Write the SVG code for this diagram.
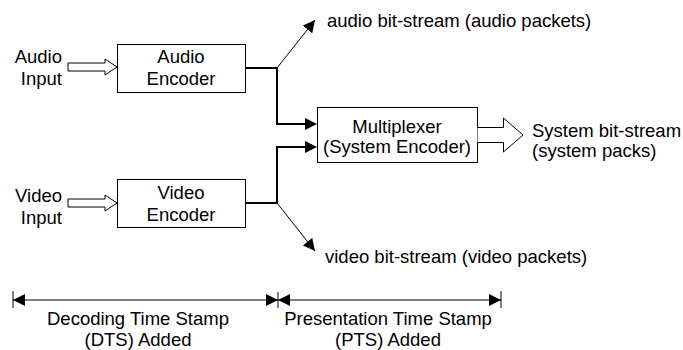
<svg xmlns="http://www.w3.org/2000/svg" width="683" height="350" viewBox="0 0 683 350">
<defs>
<style>
text{font-family:"Liberation Sans",Arial,sans-serif;font-size:18.5px;fill:#000}
.box{fill:#fff;stroke:#000;stroke-width:1}
.thick{fill:none;stroke:#000;stroke-width:2}
.thin{fill:none;stroke:#000;stroke-width:1}
.hollow{fill:#fff;stroke:#000;stroke-width:1}
</style>
<marker id="ah" viewBox="0 0 12 12" refX="12" refY="6" markerWidth="12" markerHeight="12" markerUnits="userSpaceOnUse" orient="auto">
<path d="M0,0 L12,6 L0,12 Z" fill="#000"/>
</marker>
<marker id="ahs" viewBox="0 0 12 12" refX="12" refY="6" markerWidth="12" markerHeight="12" markerUnits="userSpaceOnUse" orient="auto-start-reverse">
<path d="M0,0 L12,6 L0,12 Z" fill="#000"/>
</marker>
</defs>

<g id="audio-input">
<text x="62" y="63" text-anchor="end">Audio</text>
<text x="62" y="85" text-anchor="end">Input</text>
<path class="hollow" d="M68,63 L105,63 L105,59 L117,67 L105,75 L105,71 L68,71 Z"/>
</g>

<g id="video-input">
<text x="62" y="202" text-anchor="end">Video</text>
<text x="62" y="224" text-anchor="end">Input</text>
<path class="hollow" d="M68,199 L105,199 L105,195 L117,203 L105,211 L105,207 L68,207 Z"/>
</g>

<g id="audio-encoder">
<rect class="box" x="117.5" y="44.5" width="128" height="48"/>
<text x="181" y="63" text-anchor="middle">Audio</text>
<text x="181" y="85" text-anchor="middle">Encoder</text>
</g>

<g id="video-encoder">
<rect class="box" x="117.5" y="179.5" width="128" height="48"/>
<text x="181" y="199" text-anchor="middle">Video</text>
<text x="181" y="221" text-anchor="middle">Encoder</text>
</g>

<g id="multiplexer">
<rect class="box" x="317.5" y="107.5" width="160" height="55"/>
<text x="397" y="133" text-anchor="middle">Multiplexer</text>
<text x="397" y="153" text-anchor="middle">(System Encoder)</text>
</g>

<g id="system-output">
<path class="hollow" d="M477.5,127.5 L503.5,127.5 L503.5,118 L523,135 L503.5,152 L503.5,142.5 L477.5,142.5"/>
<text x="532" y="137">System bit-stream</text>
<text x="532" y="157">(system packs)</text>
</g>

<g id="audio-bitstream">
<text x="327" y="27">audio bit-stream (audio packets)</text>
</g>

<g id="video-bitstream">
<text x="325" y="263">video bit-stream (video packets)</text>
</g>

<g id="connectors">
<path class="thick" d="M245,68 L277,68 L277,124 L306,124"/>
<path d="M305,118 L317,124 L305,130 Z" fill="#000"/>
<path class="thick" d="M245,203 L277,203 L277,147 L306,147"/>
<path d="M305,141 L317,147 L305,153 Z" fill="#000"/>
<line class="thin" x1="277" y1="68" x2="315" y2="20" marker-end="url(#ah)"/>
<line class="thin" x1="277" y1="203" x2="315" y2="251" marker-end="url(#ah)"/>
</g>

<g id="dts">
<line class="thin" x1="13" y1="291" x2="13" y2="308"/>
<line class="thin" x1="13" y1="300" x2="278" y2="300" marker-start="url(#ahs)" marker-end="url(#ah)"/>
<text x="138" y="325" text-anchor="middle">Decoding Time Stamp</text>
<text x="138" y="346" text-anchor="middle">(DTS) Added</text>
</g>

<g id="pts">
<line class="thin" x1="278" y1="292" x2="278" y2="308"/>
<line class="thin" x1="501" y1="291" x2="501" y2="308"/>
<line class="thin" x1="278" y1="300" x2="501" y2="300" marker-start="url(#ahs)" marker-end="url(#ah)"/>
<text x="388" y="325" text-anchor="middle">Presentation Time Stamp</text>
<text x="388" y="346" text-anchor="middle">(PTS) Added</text>
</g>
</svg>
